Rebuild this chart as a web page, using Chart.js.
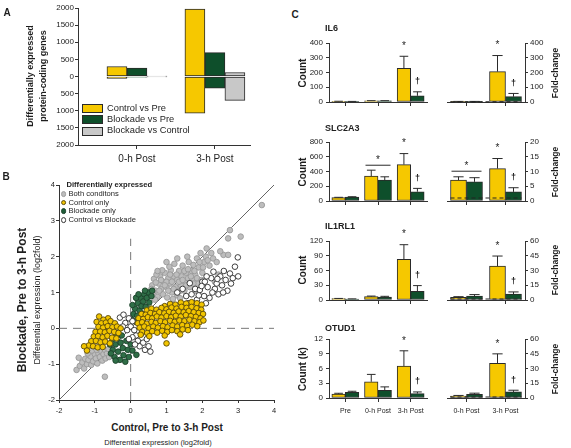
<!DOCTYPE html>
<html>
<head>
<meta charset="utf-8">
<script src="https://cdn.jsdelivr.net/npm/chart.js@4.4.1/dist/chart.umd.min.js"></script>
<style>
html, body { margin: 0; padding: 0; background: #fff; }
body { width: 571px; height: 448px; position: relative; overflow: hidden;
       font-family: "Liberation Sans", Arial, sans-serif; color: #1e1e1e; }
canvas { position: absolute; }
.t  { position: absolute; white-space: nowrap; line-height: 1; transform: translate(-50%, -50%); }
.tl { position: absolute; white-space: nowrap; line-height: 1; transform: translate(0, -50%); }
.tv { position: absolute; white-space: nowrap; line-height: 1; transform: translate(-50%, -50%) rotate(-90deg); }
.b { font-weight: bold; }
.box { position: absolute; width: 19px; height: 7px; border: 1px solid #2a2a2a; }
.dot { position: absolute; width: 3.8px; height: 3.8px; border-radius: 50%; border: 0.8px solid #333; transform: translate(-50%, -50%); }
</style>
</head>
<body>
<canvas id="chartA" width="290" height="170" style="left:0px;top:0px"></canvas>
<canvas id="chartB" width="290" height="250" style="left:0px;top:170px"></canvas>
<canvas id="count0" width="150" height="95" style="left:290px;top:29px"></canvas>
<canvas id="fold0" width="131" height="95" style="left:440px;top:29px"></canvas>
<canvas id="count1" width="150" height="95" style="left:290px;top:128px"></canvas>
<canvas id="fold1" width="131" height="95" style="left:440px;top:128px"></canvas>
<canvas id="count2" width="150" height="95" style="left:290px;top:227px"></canvas>
<canvas id="fold2" width="131" height="95" style="left:440px;top:227px"></canvas>
<canvas id="count3" width="150" height="95" style="left:290px;top:325px"></canvas>
<canvas id="fold3" width="131" height="95" style="left:440px;top:325px"></canvas>

<!-- panel A text -->
<div class="t b" style="left:7px;top:13px;font-size:10px">A</div>
<div class="tv b" style="left:30px;top:76px;font-size:9px">Differentially expressed</div>
<div class="tv b" style="left:43px;top:76px;font-size:9px">protein-coding genes</div>
<div class="box" style="left:82px;top:104px;background:#f6c800"></div>
<div class="box" style="left:82px;top:115px;background:#0e4f2b"></div>
<div class="box" style="left:82px;top:127px;background:#c8c8c8"></div>
<div class="tl" style="left:107px;top:108.5px;font-size:9.3px">Control vs Pre</div>
<div class="tl" style="left:107px;top:119.5px;font-size:9.3px">Blockade vs Pre</div>
<div class="tl" style="left:107px;top:131px;font-size:9.3px">Blockade vs Control</div>

<!-- panel B text -->
<div class="t b" style="left:6px;top:177px;font-size:10px">B</div>
<div class="tv b" style="left:22px;top:300px;font-size:12px">Blockade, Pre to 3-h Post</div>
<div class="tv" style="left:37px;top:300px;font-size:9px">Differential expression (log2fold)</div>
<div class="t b" style="left:167px;top:428px;font-size:10px">Control, Pre to 3-h Post</div>
<div class="t" style="left:158px;top:443px;font-size:7.5px;color:#1e1e1e">Differential expression (log2fold)</div>
<div class="tl b" style="left:66.5px;top:184.5px;font-size:7.6px">Differentially expressed</div>
<div class="dot" style="left:63.5px;top:194px;background:#bdbdbd;border-color:#9b9b9b"></div>
<div class="dot" style="left:63.5px;top:202.5px;background:#f2c500;border-color:#5a490a"></div>
<div class="dot" style="left:63.5px;top:211.3px;background:#1f5e39;border-color:#143b24"></div>
<div class="dot" style="left:63.5px;top:220.2px;background:#fff;border-color:#333"></div>
<div class="tl" style="left:68.5px;top:194px;font-size:7.6px">Both conditons</div>
<div class="tl" style="left:68.5px;top:202.5px;font-size:7.6px">Control only</div>
<div class="tl" style="left:68.5px;top:211.3px;font-size:7.6px">Blockade only</div>
<div class="tl" style="left:68.5px;top:220.2px;font-size:7.6px">Control vs Blockade</div>

<!-- panel C text -->
<div class="t b" style="left:295px;top:15px;font-size:10px">C</div>
<div class="tl b" style="left:325px;top:28px;font-size:9px">IL6</div>
<div class="tl b" style="left:325px;top:128px;font-size:9px">SLC2A3</div>
<div class="tl b" style="left:325px;top:226px;font-size:9px">IL1RL1</div>
<div class="tl b" style="left:325px;top:328px;font-size:9px">OTUD1</div>
<div class="tv b" style="left:303px;top:73px;font-size:10px">Count</div>
<div class="tv b" style="left:303px;top:171.5px;font-size:10px">Count</div>
<div class="tv b" style="left:303px;top:270px;font-size:10px">Count</div>
<div class="tv b" style="left:303px;top:368.5px;font-size:10px">Count (k)</div>
<div class="tv b" style="left:555px;top:73px;font-size:8.5px">Fold-change</div>
<div class="tv b" style="left:555px;top:171.5px;font-size:8.5px">Fold-change</div>
<div class="tv b" style="left:555px;top:270px;font-size:8.5px">Fold-change</div>
<div class="tv b" style="left:555px;top:368.5px;font-size:8.5px">Fold-change</div>

<script>
/* ---------- panel A: number of DE genes (up above 0, down below 0) ---------- */
const aCats = ['0-h Post', '3-h Post'];
const ctrlUp = [291, 1971];
const ctrlDown = [-58, -1068];
const blkUp = [243, 699];
const blkDown = [-20, -340];
const bvcUp = [6, 117];
const bvcDown = [-6, -699];

/* ---------- panel B: log2 fold changes [control, blockade] ---------- */
const bothPts = [
  [-1.51,-1.16],[-1.42,-1.05],[-1.35,-0.95],[-1.3,-1.12],[-1.27,-0.85],[-1.22,-1.0],[-1.18,-0.88],
  [-1.12,-0.78],[-1.1,-1.02],[-1.05,-0.92],[-1.0,-0.72],[-0.97,-0.84],[-0.93,-0.98],[-0.9,-0.7],
  [-0.86,-0.8],[-0.82,-0.64],[-0.79,-0.9],[-0.76,-0.72],[-0.72,-0.6],[-0.7,-0.84],[-0.66,-0.7],
  [-0.62,-0.58],[-0.6,-0.8],[-0.72,-1.35],[-1.2,-0.7],[-1.45,-0.82],[-1.08,-0.62],[-0.95,-0.6],
  [0.55,0.95],[0.6,1.2],[0.65,1.38],[0.7,1.05],[0.75,0.88],[0.78,1.25],[0.82,1.45],[0.85,1.1],
  [0.9,0.95],[0.92,1.3],[0.95,1.55],[1.0,1.15],[1.02,0.86],[1.05,1.4],[1.1,1.25],[1.12,1.62],
  [1.15,1.0],[1.2,1.45],[1.22,1.8],[1.25,1.15],[1.3,1.35],[1.3,0.92],[1.35,1.6],[1.4,1.2],
  [1.42,1.45],[1.45,1.75],[1.5,1.05],[1.52,1.3],[1.55,1.55],[1.6,1.4],[1.62,1.85],[1.65,1.15],
  [1.7,1.6],[1.72,1.35],[1.75,1.77],[1.8,1.5],[1.85,1.95],[1.88,1.25],[1.9,1.7],[1.95,2.1],
  [2.0,1.55],[2.05,1.85],[2.1,2.0],[2.12,2.23],[2.2,1.75],[2.3,1.95],[2.45,1.5],[2.59,2.05],
  [2.72,2.05],[2.72,2.51],[2.77,2.74],[3.07,2.56],[3.66,3.44],[1.38,0.84],[0.68,0.8],[1.8,1.05],
  [2.35,1.3],[0.88,1.62],[1.08,1.72],[1.3,1.95],[1.58,2.0],[1.0,1.3],[1.18,0.82],[0.72,1.5],
  [0.62,1.0],[0.7,1.28],[0.8,1.05],[0.85,1.35],[0.95,1.2],[1.05,1.05],[1.1,1.5],[1.15,1.3],
  [1.2,1.1],[1.28,1.5],[1.35,1.3],[1.38,1.05],[1.45,1.35],[1.5,1.6],[1.55,1.2],[1.6,1.65],
  [1.68,1.45],[1.75,1.25],[1.78,1.6],[1.85,1.4],[1.92,1.85],[1.98,1.35],[2.02,1.7],[2.15,1.9],
  [2.25,2.1],[2.4,1.85],[2.5,2.15],[0.58,1.1],[0.75,1.6],[1.0,1.85]
];
const ctrlOnlyPts = [
  [0.95,0.62],[1.1,0.68],[1.25,0.66],[1.4,0.72],[1.55,0.69],[1.7,0.73],[1.85,0.7],[1.98,0.66],
  [0.45,0.5],[0.58,0.55],[0.72,0.52],[0.86,0.57],[1.0,0.53],[1.14,0.58],[1.28,0.55],[1.42,0.6],
  [1.56,0.57],[1.7,0.6],[1.84,0.56],[1.97,0.52],
  [0.3,0.4],[0.42,0.38],[0.55,0.43],[0.68,0.4],[0.8,0.45],[0.94,0.42],[1.07,0.46],[1.2,0.43],
  [1.34,0.47],[1.48,0.45],[1.62,0.48],[1.76,0.45],[1.9,0.43],[2.02,0.4],
  [0.22,0.28],[0.35,0.26],[0.48,0.31],[0.6,0.28],[0.73,0.33],[0.86,0.3],[1.0,0.34],[1.13,0.31],
  [1.26,0.35],[1.4,0.33],[1.54,0.37],[1.68,0.34],[1.82,0.32],[1.95,0.28],
  [0.2,0.14],[0.32,0.17],[0.45,0.13],[0.58,0.18],[0.7,0.15],[0.83,0.2],[0.96,0.17],[1.1,0.21],
  [1.23,0.18],[1.36,0.22],[1.5,0.2],[1.64,0.24],[1.78,0.2],[1.92,0.17],[2.03,0.22],
  [0.25,0.02],[0.38,0.05],[0.5,0.0],[0.63,0.05],[0.76,0.02],[0.9,0.06],[1.03,0.03],[1.17,0.08],
  [1.3,0.05],[1.44,0.09],[1.58,0.07],[1.72,0.1],[1.86,0.06],
  [0.32,-0.1],[0.46,-0.13],[0.6,-0.08],[0.74,-0.12],[0.88,-0.07],[1.02,-0.1],[1.15,-0.05],
  [1.3,-0.08],[1.45,-0.03],[1.6,-0.05],
  [0.52,-0.22],[0.95,-0.2],[1.0,-0.42],[1.38,-0.17],[0.28,-0.18],
  [-0.88,0.33],[-0.63,0.28],[-0.76,0.24],[-0.95,0.18],[-0.82,0.14],[-0.69,0.16],[-0.56,0.2],
  [-0.44,0.14],[-0.9,0.04],[-0.77,0.02],[-0.64,0.06],[-0.51,0.03],[-0.38,0.05],[-0.28,0.0],
  [-0.98,-0.1],[-0.85,-0.09],[-0.72,-0.11],[-0.59,-0.07],[-0.46,-0.1],[-0.34,-0.13],
  [-1.03,-0.23],[-0.91,-0.22],[-0.78,-0.25],[-0.65,-0.21],[-0.52,-0.26],[-0.4,-0.28],
  [-1.1,-0.36],[-0.97,-0.35],[-0.84,-0.39],[-0.71,-0.37],[-0.58,-0.42],[-1.17,-0.48],
  [-1.05,-0.5],[-0.92,-0.53],[-1.3,-0.5],[-1.22,-0.62],[-0.78,-0.52]
];
const blkOnlyPts = [
  [0.02,0.25],[0.08,0.4],[0.12,0.55],[0.1,0.2],[0.18,0.35],[0.2,0.7],[0.25,0.5],[0.28,0.85],
  [0.3,0.62],[0.35,0.75],[0.38,0.95],[0.42,0.6],[0.45,0.85],[0.5,1.0],[0.52,0.72],[0.58,0.9],
  [0.6,1.05],[0.15,0.85],[0.22,0.95],[0.4,1.05],[0.05,0.65],[0.32,0.4],
  [-0.58,-0.45],[-0.5,-0.3],[-0.5,-0.6],[-0.45,-0.8],[-0.42,-0.45],[-0.38,-0.2],[-0.35,-0.65],
  [-0.3,-0.88],[-0.28,-0.4],[-0.22,-0.55],[-0.2,-0.75],[-0.15,-0.93],[-0.12,-0.35],[-0.08,-0.6],
  [-0.05,-0.8],[0.0,-0.45],[0.05,-0.62],[0.16,-0.74],[-0.55,-0.7],[-0.25,-0.2],[-0.42,-0.9]
];
const cvbPts = [
  [-0.3,0.3],[-0.2,0.38],[-0.15,0.15],[-0.05,0.28],[0.0,0.05],[0.05,0.2],[0.1,-0.05],[-0.1,-0.05],
  [-0.22,0.05],[0.15,-0.2],[0.2,-0.35],[0.05,-0.25],[-0.05,-0.3],[0.25,-0.5],[0.3,-0.15],
  [0.35,-0.4],[0.4,-0.6],[0.45,-0.3],[0.5,-0.5],[0.12,-0.45],[-0.7,-0.1],[-0.65,-0.3],[0.55,-0.65],
  [1.55,0.9],[1.65,1.26],[1.7,0.95],[1.8,1.1],[1.85,0.8],[1.93,1.07],[2.0,1.3],[2.05,0.9],
  [2.07,1.3],[2.15,1.15],[2.2,0.85],[2.25,1.4],[2.31,1.58],[2.35,1.1],[2.4,1.25],[2.45,0.95],
  [2.5,1.45],[2.55,1.2],[2.6,1.6],[2.65,1.35],[2.7,1.05],[2.77,1.53],[2.85,1.4],[2.91,1.72],
  [2.99,1.98],[3.0,1.45],[1.6,0.7],[1.75,0.65],[2.1,0.7],[1.45,1.1],[1.3,1.0],
  [1.9,0.92],[2.28,1.0],[2.42,1.38],[2.58,1.0],[2.8,1.25],[2.12,1.45],[1.98,1.18]
];
const diagLine = [[-2, -2], [4, 4]];
const zeroV = [[0, -2], [0, 2.5]];
const zeroH = [[-2, 0], [4, 0]];

/* ---------- panel C: counts (Pre, 0-h, 3-h) and fold-change (0-h, 3-h) ---------- */
const countCats = ['Pre', '0-h Post', '3-h Post'];
const foldCats = ['0-h Post', '3-h Post'];

const il6CountCtrl = [4, 8, 228],   il6CountCtrlSem = [1, 1, 82];
const il6CountBlk = [3, 8, 42],     il6CountBlkSem = [1, 1, 27];
const il6FoldCtrl = [3, 206],       il6FoldCtrlSem = [1, 109];
const il6FoldBlk = [3, 36],         il6FoldBlkSem = [1, 22];

const slcCountCtrl = [45, 337, 494], slcCountCtrlSem = [5, 81, 149];
const slcCountBlk = [54, 283, 126],  slcCountBlkSem = [4, 45, 45];
const slcFoldCtrl = [7.1, 11.0],     slcFoldCtrlSem = [1.1, 3.4];
const slcFoldBlk = [6.5, 3.1],       slcFoldBlkSem = [1.4, 1.4];
const slcCountBracket = 485, slcFoldBracket = 10.1;

const il1CountCtrl = [2.7, 6.8, 82.5], il1CountCtrlSem = [0.5, 1.2, 30];
const il1CountBlk = [2, 6, 17.7],      il1CountBlkSem = [0.3, 1.5, 11.6];
const il1FoldCtrl = [2.7, 34.4],       il1FoldCtrlSem = [0.7, 10.3];
const il1FoldBlk = [4.1, 6.1],         il1FoldBlkSem = [1.4, 2.1];

const otuCountCtrl = [0.82, 3.3, 6.5], otuCountCtrlSem = [0.14, 1.5, 3.1];
const otuCountBlk = [1.17, 1.58, 0.9], otuCountBlkSem = [0.2, 0.68, 0.33];
const otuFoldCtrl = [2.0, 35.3],       otuFoldCtrlSem = [0.6, 9.6];
const otuFoldBlk = [3.8, 6.2],         otuFoldBlkSem = [1.1, 1.7];

const countMax = [400, 800, 120, 12], countStep = [100, 200, 30, 3];
const foldMax = [400, 20, 60, 60],    foldStep = [100, 5, 15, 15];
const foldRef = 1;

const YELLOW = '#f6c800';
const GREEN = '#0e4f2b';
const GRAY = '#c8c8c8';
const INK = '#2a2a2a';

Chart.defaults.font.family = '"Liberation Sans", Arial, sans-serif';
Chart.defaults.color = '#222';
Chart.defaults.animation = false;
Chart.defaults.responsive = false;
Chart.defaults.plugins.legend.display = false;
Chart.defaults.plugins.tooltip.enabled = false;

const xy = (vals) => vals.map((v, i) => ({x: i + 1, y: v}));
const pts = (list) => list.map(p => ({x: p[0], y: p[1]}));

/*==================== A: DE gene counts ====================*/
new Chart(document.getElementById('chartA'), {
  type: 'bar',
  data: {
    datasets: [
      {data: xy(ctrlUp), stack: 'ctrl', backgroundColor: YELLOW},
      {data: xy(ctrlDown), stack: 'ctrl', backgroundColor: YELLOW},
      {data: xy(blkUp), stack: 'blk', backgroundColor: GREEN},
      {data: xy(blkDown), stack: 'blk', backgroundColor: GREEN},
      {data: xy(bvcUp), stack: 'bvc', backgroundColor: GRAY},
      {data: xy(bvcDown), stack: 'bvc', backgroundColor: GRAY}
    ]
  },
  options: {
    layout: {padding: {left: 0, top: 8, right: 40, bottom: 0}},
    datasets: {bar: {barThickness: 20, borderWidth: 1, borderColor: INK, borderSkipped: false}},
    scales: {
      x: {
        type: 'linear', min: 0.244, max: 2.45, bounds: 'data', offset: false,
        afterBuildTicks: s => { s.ticks = aCats.map((c, i) => ({value: i + 1})); },
        afterFit: s => { s.height = 25; },
        ticks: {callback: v => aCats[v - 1], font: {size: 10}, padding: 4, maxRotation: 0, autoSkip: false, color: '#1e1e1e'},
        grid: {drawOnChartArea: false, offset: false, tickLength: 4, color: '#333'},
        border: {color: '#333'}
      },
      y: {
        stacked: true, min: -2000, max: 2000,
        afterFit: s => { s.width = 78; },
        ticks: {stepSize: 500, callback: v => Math.abs(v), font: {size: 8}, padding: 1},
        grid: {drawOnChartArea: false, tickLength: 3, color: '#333'},
        border: {color: '#333'}
      }
    }
  }
});

/*==================== B: scatter of fold changes ====================*/
new Chart(document.getElementById('chartB'), {
  type: 'scatter',
  data: {
    datasets: [
      {data: pts(ctrlOnlyPts), backgroundColor: '#f2c500', borderColor: '#5a490a', order: 1},
      {data: pts(cvbPts), backgroundColor: '#ffffff', borderColor: '#2b2b2b', order: 2},
      {data: pts(blkOnlyPts), backgroundColor: '#2f6e47', borderColor: '#1b4129', order: 3},
      {data: pts(bothPts), backgroundColor: '#bdbdbd', borderColor: '#999999', order: 4},
      {data: pts(diagLine), showLine: true, borderColor: '#666', borderWidth: 1, pointRadius: 0, order: 5},
      {data: pts(zeroV), showLine: true, borderColor: '#777', borderWidth: 1, borderDash: [8, 6], pointRadius: 0, order: 6},
      {data: pts(zeroH), showLine: true, borderColor: '#777', borderWidth: 1, borderDash: [8, 6], pointRadius: 0, order: 7}
    ]
  },
  options: {
    layout: {padding: {left: 0, top: 15, right: 16, bottom: 0}},
    elements: {point: {radius: 2.8, borderWidth: 0.9}},
    scales: {
      x: {
        min: -2, max: 4,
        afterFit: s => { s.height = 20; },
        ticks: {stepSize: 1, font: {size: 7.5}, padding: 3},
        grid: {drawOnChartArea: false, tickLength: 3, color: '#333'},
        border: {color: '#333'}
      },
      y: {
        min: -2, max: 4,
        afterFit: s => { s.width = 59; },
        ticks: {stepSize: 1, font: {size: 7.5}, padding: 1},
        grid: {drawOnChartArea: false, tickLength: 3, color: '#333'},
        border: {color: '#333'}
      }
    }
  }
});

/*==================== C: gene counts and fold-change ====================*/
// error bars (one-sided, upward) plus significance marks above them
const errorBars = {
  id: 'errorBars',
  afterDatasetsDraw(chart) {
    const ctx = chart.ctx;
    const y = chart.scales.y;
    ctx.save();
    ctx.strokeStyle = INK;
    ctx.fillStyle = '#1e1e1e';
    ctx.lineWidth = 1;
    chart.data.datasets.forEach((ds, i) => {
      if (!ds.sem) return;
      chart.getDatasetMeta(i).data.forEach((bar, j) => {
        const top = y.getPixelForValue(ds.data[j] + ds.sem[j]);
        const half = bar.width * 0.32;
        ctx.beginPath();
        ctx.moveTo(bar.x, bar.y);
        ctx.lineTo(bar.x, top);
        ctx.moveTo(bar.x - half, top);
        ctx.lineTo(bar.x + half, top);
        ctx.stroke();
        const m = ds.marks && ds.marks[j];
        if (m) {
          ctx.font = m === '*' ? '10px "Liberation Sans"' : 'bold 9px "Liberation Sans"';
          ctx.textAlign = 'center';
          ctx.textBaseline = 'middle';
          ctx.fillText(m, bar.x, top - 10);
        }
      });
    });
    ctx.restore();
  }
};

// dashed fold-change = 1 reference line across the bars
const refLine = {
  id: 'refLine',
  afterDatasetsDraw(chart, args, opts) {
    if (!opts || opts.value === undefined) return;
    const ctx = chart.ctx;
    const first = chart.getDatasetMeta(0).data[0];
    const lastMeta = chart.getDatasetMeta(chart.data.datasets.length - 1).data;
    const last = lastMeta[lastMeta.length - 1];
    const py = chart.scales.y.getPixelForValue(opts.value);
    ctx.save();
    ctx.strokeStyle = '#222';
    ctx.lineWidth = 1.1;
    ctx.setLineDash([4, 3]);
    ctx.beginPath();
    ctx.moveTo(first.x - first.width / 2, py);
    ctx.lineTo(last.x + last.width / 2, py);
    ctx.stroke();
    ctx.restore();
  }
};

// bracket over one time point with a mark
const bracket = {
  id: 'bracket',
  afterDatasetsDraw(chart, args, opts) {
    if (!opts || opts.value === undefined) return;
    const ctx = chart.ctx;
    const a = chart.getDatasetMeta(0).data[opts.index];
    const b = chart.getDatasetMeta(1).data[opts.index];
    const py = chart.scales.y.getPixelForValue(opts.value);
    ctx.save();
    ctx.strokeStyle = INK;
    ctx.lineWidth = 1;
    ctx.beginPath();
    ctx.moveTo(a.x - a.width / 2 + 1, py);
    ctx.lineTo(b.x + b.width / 2 - 1, py);
    ctx.stroke();
    ctx.fillStyle = '#1e1e1e';
    ctx.font = '10px "Liberation Sans"';
    ctx.textAlign = 'center';
    ctx.textBaseline = 'middle';
    ctx.fillText('*', (a.x + b.x) / 2, py - 5);
    ctx.restore();
  }
};

const countRows = [
  {ctrl: il6CountCtrl, ctrlSem: il6CountCtrlSem, blk: il6CountBlk, blkSem: il6CountBlkSem},
  {ctrl: slcCountCtrl, ctrlSem: slcCountCtrlSem, blk: slcCountBlk, blkSem: slcCountBlkSem, bracket: slcCountBracket},
  {ctrl: il1CountCtrl, ctrlSem: il1CountCtrlSem, blk: il1CountBlk, blkSem: il1CountBlkSem},
  {ctrl: otuCountCtrl, ctrlSem: otuCountCtrlSem, blk: otuCountBlk, blkSem: otuCountBlkSem}
];
const foldRows = [
  {ctrl: il6FoldCtrl, ctrlSem: il6FoldCtrlSem, blk: il6FoldBlk, blkSem: il6FoldBlkSem},
  {ctrl: slcFoldCtrl, ctrlSem: slcFoldCtrlSem, blk: slcFoldBlk, blkSem: slcFoldBlkSem, bracket: slcFoldBracket},
  {ctrl: il1FoldCtrl, ctrlSem: il1FoldCtrlSem, blk: il1FoldBlk, blkSem: il1FoldBlkSem},
  {ctrl: otuFoldCtrl, ctrlSem: otuFoldCtrlSem, blk: otuFoldBlk, blkSem: otuFoldBlkSem}
];

function axisX(showLabels) {
  return {
    afterFit: s => { s.height = 22; },
    ticks: {display: showLabels, font: {size: 7}, padding: 5, maxRotation: 0, autoSkip: false, color: '#1e1e1e'},
    grid: {drawOnChartArea: false, offset: false, tickLength: 4, color: '#333'},
    border: {color: '#333'}
  };
}

function axisY(max, step, side, width) {
  return {
    position: side, min: 0, max: max,
    afterFit: s => { s.width = width; },
    ticks: {stepSize: step, font: {size: 8}, padding: side === 'left' ? 3 : 2},
    grid: {drawOnChartArea: false, tickLength: 3, color: '#333'},
    border: {color: '#333'}
  };
}

for (let r = 0; r < 4; r++) {
  const c = countRows[r];
  new Chart(document.getElementById('count' + r), {
    type: 'bar',
    data: {
      labels: countCats,
      datasets: [
        {data: c.ctrl, sem: c.ctrlSem, marks: ['', '', '*'], backgroundColor: YELLOW},
        {data: c.blk, sem: c.blkSem, marks: ['', '', '\u2020'], backgroundColor: GREEN}
      ]
    },
    options: {
      layout: {padding: {left: 0, top: 14, right: 13, bottom: 0}},
      datasets: {bar: {barThickness: 13.5, borderWidth: 1, borderColor: INK, borderSkipped: false}},
      plugins: {bracket: c.bracket !== undefined ? {index: 1, value: c.bracket} : {}},
      scales: {x: axisX(r === 3), y: axisY(countMax[r], countStep[r], 'left', 39)}
    },
    plugins: [errorBars, bracket]
  });

  const f = foldRows[r];
  new Chart(document.getElementById('fold' + r), {
    type: 'bar',
    data: {
      labels: foldCats,
      datasets: [
        {data: f.ctrl, sem: f.ctrlSem, marks: ['', '*'], backgroundColor: YELLOW},
        {data: f.blk, sem: f.blkSem, marks: ['', '\u2020'], backgroundColor: GREEN}
      ]
    },
    options: {
      layout: {padding: {left: 7, top: 14, right: 0, bottom: 0}},
      datasets: {bar: {barThickness: 16, borderWidth: 1, borderColor: INK, borderSkipped: false}},
      plugins: {
        refLine: {value: foldRef},
        bracket: f.bracket !== undefined ? {index: 0, value: f.bracket} : {}
      },
      scales: {x: axisX(r === 3), y: axisY(foldMax[r], foldStep[r], 'right', 46)}
    },
    plugins: [errorBars, refLine, bracket]
  });
}
</script>
</body>
</html>
